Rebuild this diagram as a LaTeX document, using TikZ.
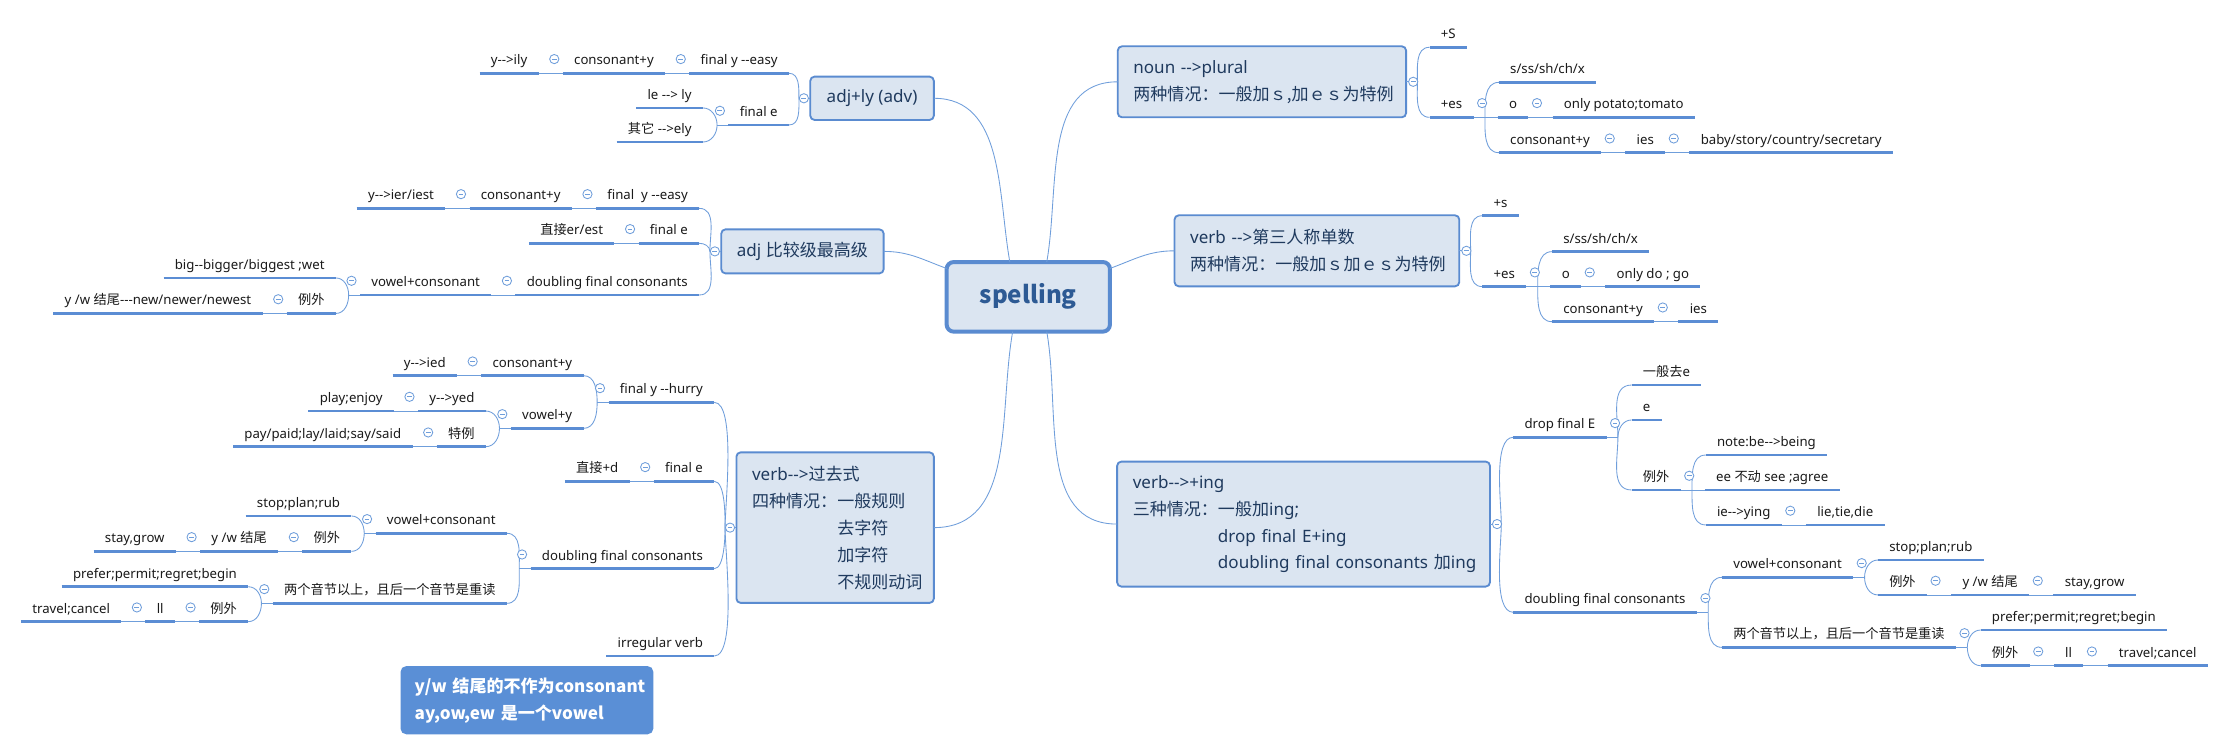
\documentclass[tikz,border=0pt]{standalone}
\usepackage{fontspec}
\setmainfont{Noto Sans}
\newfontfamily\zh{Noto Sans CJK SC}
\usetikzlibrary{positioning}
\definecolor{boxfill}{HTML}{DBE5F1}
\definecolor{boxline}{HTML}{5A8BD0}
\definecolor{navy}{HTML}{1F3A5E}
\definecolor{spellc}{HTML}{2D5A94}
\definecolor{ulinec}{HTML}{5B8DD4}
\definecolor{connc}{HTML}{6F9EDB}
\definecolor{notec}{HTML}{5A8FD6}
\definecolor{leaftext}{HTML}{1A1A1A}

\begin{document}
\begin{tikzpicture}[x=1pt, y=-1pt,
    node distance=17pt,
    every node/.style={outer sep=0pt},
    topic/.style={draw=boxline, fill=boxfill, line width=1.3pt, rounded corners=3pt,
        font=\fontsize{12}{19}\selectfont, text=navy, inner xsep=11pt, inner ysep=0pt},
    leaf/.style={font=\fontsize{9.3}{11}\selectfont, text=leaftext, inner xsep=8pt,
        inner ysep=3.5pt, text height=7pt, text depth=2.5pt},
    uline/.style={draw=ulinec, line width=2pt},
    conn/.style={draw=connc, line width=0.6pt},
    lup/.style={out=90, in=0}, ldn/.style={out=-90, in=0},
    rup/.style={out=90, in=180}, rdn/.style={out=-90, in=180},
    fold/.style={circle, draw=connc, fill=white, line width=0.6pt, minimum size=6.5pt, inner sep=0pt,
        path picture={\draw[connc, line width=0.6pt] ([xshift=-1.7pt]path picture bounding box.center)
            -- ([xshift=1.7pt]path picture bounding box.center);}},
    note/.style={fill=notec, rounded corners=4pt, text=white, align=left, text width=158pt,
        inner xsep=10pt, minimum height=48pt, font=\zh\bfseries\fontsize{12}{19}\selectfont}
  ]
\path[fill=white] (0,0) rectangle (1568,529);
\useasboundingbox (0,0) rectangle (1568,529);

% main topics
\node[topic, line width=2.8pt, rounded corners=5pt, minimum width=115pt, minimum height=49pt,
      font=\zh\bfseries\fontsize{17}{21}\selectfont, text=spellc] (sp) at (724,209) {spelling};
\node[topic, minimum width=87pt, minimum height=30.5pt] (al) at (614,69.2) {adj+ly (adv)};
\node[topic, minimum width=111.5pt, minimum height=31pt] (ac) at (565,177) {adj {\zh 比较级最高级}};
\node[topic, align=left, text width=117pt, minimum height=106pt] (vp) at (588,371.5)
  {verb-{}->{\zh 过去式}\\{\zh 四种情况：一般规则}\\{\zh\phantom{四种情况：}去字符}\\
   {\zh\phantom{四种情况：}加字符}\\{\zh\phantom{四种情况：}不规则动词}};
\node[topic, align=left, text width=181pt, minimum height=50pt] (np) at (888.5,57.6)
  {noun -{}->plural\\{\zh 两种情况：一般加ｓ,加ｅｓ为特例}};
\node[topic, align=left, text width=178.5pt, minimum height=50pt] (vt) at (927.2,176.6)
  {verb -{}->{\zh 第三人称单数}\\{\zh 两种情况：一般加ｓ加ｅｓ为特例}};
\node[topic, align=left, text width=240.5pt, minimum height=88pt] (vi) at (917.8,369)
  {verb-{}->+ing\\{\zh 三种情况：一般加}ing;\\{\zh\phantom{三种情况：}}drop final E+ing\\
   \mbox{{\zh\phantom{三种情况：}}doubling final consonants {\zh 加}ing}};
\node[note] (nt) at (371,493)
  {\mbox{y/w 结尾的不作为consonant}\\\mbox{ay,ow,ew 是一个vowel}};

% adj+ly (adv)
\node[leaf, anchor=south east] (al1) at ([shift={(-15,-17.6)}]al.west) {final y -{}-easy};
\node[leaf, left=of al1] (al11) {consonant+y};
\node[leaf, left=of al11] (al111) {y-{}->ily};
\node[leaf, anchor=south east] (al2) at ([shift={(-15,18.8)}]al.west) {final e};
\node[leaf, anchor=south east] (al21) at ([shift={(-18,-12)}]al2.south west) {le -{}-> ly};
\node[leaf, anchor=south east] (al22) at ([shift={(-18,12)}]al2.south west) {{\zh 其它} -{}->ely};

% adj comparative
\node[leaf, anchor=south east] (ac1) at ([shift={(-15.6,-30.3)}]ac.west) {final\ \ y -{}-easy};
\node[leaf, left=of ac1] (ac11) {consonant+y};
\node[leaf, left=of ac11] (ac111) {y-{}->ier/iest};
\node[leaf, anchor=south east] (ac2) at ([shift={(-15.6,-5.7)}]ac.west) {final e};
\node[leaf, left=of ac2] (ac21) {{\zh 直接}er/est};
\node[leaf, anchor=south east] (ac3) at ([shift={(-15.6,30.7)}]ac.west) {doubling final consonants};
\node[leaf, left=of ac3] (ac31) {vowel+consonant};
\node[leaf, anchor=south east] (ac311) at ([shift={(-17,-12)}]ac31.south west) {big-{}-bigger/biggest ;wet};
\node[leaf, anchor=south east] (ac312) at ([shift={(-17,13)}]ac31.south west) {{\zh 例外}};
\node[leaf, left=of ac312] (ac3121) {y /w {\zh 结尾}-{}-{}-new/newer/newest};

% verb past
\node[leaf, anchor=south east] (vp1) at ([shift={(-15.6,-88.2)}]vp.west) {final y -{}-hurry};
\node[leaf, anchor=south east] (vp11) at ([shift={(-17.6,-18.8)}]vp1.south west) {consonant+y};
\node[leaf, left=of vp11] (vp111) {y-{}->ied};
\node[leaf, anchor=south east] (vp12) at ([shift={(-17.6,18.3)}]vp1.south west) {vowel+y};
\node[leaf, anchor=south east] (vp121) at ([shift={(-17.6,-12.2)}]vp12.south west) {y-{}->yed};
\node[leaf, left=of vp121] (vp1211) {play;enjoy};
\node[leaf, anchor=south east] (vp122) at ([shift={(-17.6,12.9)}]vp12.south west) {{\zh 特例}};
\node[leaf, left=of vp122] (vp1221) {pay/paid;lay/laid;say/said};
\node[leaf, anchor=south east] (vp2) at ([shift={(-15.6,-32.6)}]vp.west) {final e};
\node[leaf, left=of vp2] (vp21) {{\zh 直接}+d};
\node[leaf, anchor=south east] (vp3) at ([shift={(-15.6,28.9)}]vp.west) {doubling final consonants};
\node[leaf, anchor=south east] (vp31) at ([shift={(-16.7,-24.9)}]vp3.south west) {vowel+consonant};
\node[leaf, anchor=south east] (vp311) at ([shift={(-17,-12.2)}]vp31.south west) {stop;plan;rub};
\node[leaf, anchor=south east] (vp312) at ([shift={(-17,12.7)}]vp31.south west) {{\zh 例外}};
\node[leaf, left=of vp312] (vp3121) {y /w {\zh 结尾}};
\node[leaf, left=of vp3121] (vp31211) {stay,grow};
\node[leaf, anchor=south east] (vp32) at ([shift={(-16.7,24.4)}]vp3.south west) {{\zh 两个音节以上，且后一个音节是重读}};
\node[leaf, anchor=south east] (vp321) at ([shift={(-17.3,-11.7)}]vp32.south west) {prefer;permit;regret;begin};
\node[leaf, anchor=south east] (vp322) at ([shift={(-17.3,12.9)}]vp32.south west) {{\zh 例外}};
\node[leaf, left=of vp322] (vp3221) {ll};
\node[leaf, left=of vp3221] (vp32211) {travel;cancel};
\node[leaf, anchor=south east] (vp4) at ([shift={(-15.6,90.4)}]vp.west) {irregular verb};

% noun plural
\node[leaf, anchor=south west] (np1) at ([shift={(16.5,-24.3)}]np.east) {+S};
\node[leaf, anchor=south west] (np2) at ([shift={(16.5,25)}]np.east) {+es};
\node[leaf, anchor=south west] (np21) at ([shift={(17.8,-24.6)}]np2.south east) {s/ss/sh/ch/x};
\node[leaf, right=of np2] (np22) {o};
\node[leaf, right=of np22] (np221) {only potato;tomato};
\node[leaf, anchor=south west] (np23) at ([shift={(17.8,24.9)}]np2.south east) {consonant+y};
\node[leaf, right=of np23] (np231) {ies};
\node[leaf, right=of np231] (np2311) {baby/story/country/secretary};

% verb third person
\node[leaf, anchor=south west] (vt1) at ([shift={(16.2,-24.7)}]vt.east) {+s};
\node[leaf, anchor=south west] (vt2) at ([shift={(16.2,25.2)}]vt.east) {+es};
\node[leaf, anchor=south west] (vt21) at ([shift={(18,-24.6)}]vt2.south east) {s/ss/sh/ch/x};
\node[leaf, right=of vt2] (vt22) {o};
\node[leaf, right=of vt22] (vt221) {only do ; go};
\node[leaf, anchor=south west] (vt23) at ([shift={(18,24.7)}]vt2.south east) {consonant+y};
\node[leaf, right=of vt23] (vt231) {ies};

% verb ing
\node[leaf, anchor=south west] (vi1) at ([shift={(16.4,-61.1)}]vi.east) {drop final E};
\node[leaf, anchor=south west] (vi11) at ([shift={(17.6,-36.8)}]vi1.south east) {{\zh 一般去}e};
\node[leaf, anchor=south west] (vi12) at ([shift={(17.6,-12.2)}]vi1.south east) {e};
\node[leaf, anchor=south west] (vi13) at ([shift={(17.6,37.1)}]vi1.south east) {{\zh 例外}};
\node[leaf, anchor=south west] (vi131) at ([shift={(17.6,-24.6)}]vi13.south east) {note:be-{}->being};
\node[leaf, right=of vi13] (vi132) {ee {\zh 不动} see ;agree};
\node[leaf, anchor=south west] (vi133) at ([shift={(17.6,24.6)}]vi13.south east) {ie-{}->ying};
\node[leaf, right=of vi133] (vi1331) {lie,tie,die};
\node[leaf, anchor=south west] (vi2) at ([shift={(16.4,62.1)}]vi.east) {doubling final consonants};
\node[leaf, anchor=south west] (vi21) at ([shift={(17.6,-24.6)}]vi2.south east) {vowel+consonant};
\node[leaf, anchor=south west] (vi211) at ([shift={(17.4,-12.2)}]vi21.south east) {stop;plan;rub};
\node[leaf, anchor=south west] (vi212) at ([shift={(17.4,12.4)}]vi21.south east) {{\zh 例外}};
\node[leaf, right=of vi212] (vi2121) {y /w {\zh 结尾}};
\node[leaf, right=of vi2121] (vi21211) {stay,grow};
\node[leaf, anchor=south west] (vi22) at ([shift={(17.6,24.7)}]vi2.south east) {{\zh 两个音节以上，且后一个音节是重读}};
\node[leaf, anchor=south west] (vi221) at ([shift={(17.3,-12.2)}]vi22.south east) {prefer;permit;regret;begin};
\node[leaf, anchor=south west] (vi222) at ([shift={(17.3,12.9)}]vi22.south east) {{\zh 例外}};
\node[leaf, right=of vi222] (vi2221) {ll};
\node[leaf, right=of vi2221] (vi22211) {travel;cancel};

% branch points
\foreach \n in {al2,ac31,vp1,vp12,vp3,vp31,vp32}
  \coordinate (b\n) at ([xshift=-8pt]\n.south west);
\foreach \n in {np2,vt2,vi1,vi13,vi2,vi21,vi22}
  \coordinate (b\n) at ([xshift=8pt]\n.south east);
\foreach \n in {al,ac,vp} \coordinate (b\n) at ([xshift=-8pt]\n.west);
\foreach \n in {np,vt,vi} \coordinate (b\n) at ([xshift=8pt]\n.east);

% main connectors
\path[conn]
  (al.east) edge[out=0, in=100] ([xshift=-13pt]sp.north)
  (ac.east) edge[out=0, in=160] ([yshift=20pt]sp.west)
  (vp.east) edge[out=0, in=-100] ([xshift=-11pt]sp.south)
  (np.west) edge[out=180, in=80] ([xshift=13pt]sp.north)
  (vt.west) edge[out=180, in=20] ([yshift=20pt]sp.east)
  (vi.west) edge[out=180, in=-80] ([xshift=13pt]sp.south);

% left branches
\path[conn]
  (al.west) edge (bal)
  (bal) edge[lup] (al1.south east)
  (bal) edge[ldn] (al2.south east)
  (al1.south west) edge (al11.south east)
  (al11.south west) edge (al111.south east)
  (al2.south west) edge (bal2)
  (bal2) edge[lup] (al21.south east)
  (bal2) edge[ldn] (al22.south east)
  (ac.west) edge (bac)
  (bac) edge[lup] (ac1.south east)
  (bac) edge[lup] (ac2.south east)
  (bac) edge[ldn] (ac3.south east)
  (ac1.south west) edge (ac11.south east)
  (ac11.south west) edge (ac111.south east)
  (ac2.south west) edge (ac21.south east)
  (ac3.south west) edge (ac31.south east)
  (ac31.south west) edge (bac31)
  (bac31) edge[lup] (ac311.south east)
  (bac31) edge[ldn] (ac312.south east)
  (ac312.south west) edge (ac3121.south east)
  (vp.west) edge (bvp)
  (bvp) edge[lup, looseness=.45] (vp1.south east)
  (bvp) edge[lup, looseness=.6] (vp2.south east)
  (bvp) edge[ldn, looseness=.6] (vp3.south east)
  (bvp) edge[ldn, looseness=.45] (vp4.south east)
  (vp1.south west) edge (bvp1)
  (bvp1) edge[lup] (vp11.south east)
  (bvp1) edge[ldn] (vp12.south east)
  (vp11.south west) edge (vp111.south east)
  (vp12.south west) edge (bvp12)
  (bvp12) edge[lup] (vp121.south east)
  (bvp12) edge[ldn] (vp122.south east)
  (vp121.south west) edge (vp1211.south east)
  (vp122.south west) edge (vp1221.south east)
  (vp2.south west) edge (vp21.south east)
  (vp3.south west) edge (bvp3)
  (bvp3) edge[lup] (vp31.south east)
  (bvp3) edge[ldn] (vp32.south east)
  (vp31.south west) edge (bvp31)
  (bvp31) edge[lup] (vp311.south east)
  (bvp31) edge[ldn] (vp312.south east)
  (vp312.south west) edge (vp3121.south east)
  (vp3121.south west) edge (vp31211.south east)
  (vp32.south west) edge (bvp32)
  (bvp32) edge[lup] (vp321.south east)
  (bvp32) edge[ldn] (vp322.south east)
  (vp322.south west) edge (vp3221.south east)
  (vp3221.south west) edge (vp32211.south east);

% right branches
\path[conn]
  (np.east) edge (bnp)
  (bnp) edge[rup] (np1.south west)
  (bnp) edge[rdn] (np2.south west)
  (np2.south east) edge (np22.south west)
  (bnp2) edge[rup] (np21.south west)
  (bnp2) edge[rdn] (np23.south west)
  (np22.south east) edge (np221.south west)
  (np23.south east) edge (np231.south west)
  (np231.south east) edge (np2311.south west)
  (vt.east) edge (bvt)
  (bvt) edge[rup] (vt1.south west)
  (bvt) edge[rdn] (vt2.south west)
  (vt2.south east) edge (vt22.south west)
  (bvt2) edge[rup] (vt21.south west)
  (bvt2) edge[rdn] (vt23.south west)
  (vt22.south east) edge (vt221.south west)
  (vt23.south east) edge (vt231.south west)
  (vi.east) edge (bvi)
  (bvi) edge[rup, looseness=.6] (vi1.south west)
  (bvi) edge[rdn, looseness=.6] (vi2.south west)
  (vi1.south east) edge (bvi1)
  (bvi1) edge[rup] (vi11.south west)
  (bvi1) edge[rup] (vi12.south west)
  (bvi1) edge[rdn] (vi13.south west)
  (vi13.south east) edge (vi132.south west)
  (bvi13) edge[rup] (vi131.south west)
  (bvi13) edge[rdn] (vi133.south west)
  (vi133.south east) edge (vi1331.south west)
  (vi2.south east) edge (bvi2)
  (bvi2) edge[rup] (vi21.south west)
  (bvi2) edge[rdn] (vi22.south west)
  (vi21.south east) edge (bvi21)
  (bvi21) edge[rup] (vi211.south west)
  (bvi21) edge[rdn] (vi212.south west)
  (vi212.south east) edge (vi2121.south west)
  (vi2121.south east) edge (vi21211.south west)
  (vi22.south east) edge (bvi22)
  (bvi22) edge[rup] (vi221.south west)
  (bvi22) edge[rdn] (vi222.south west)
  (vi222.south east) edge (vi2221.south west)
  (vi2221.south east) edge (vi22211.south west);

% underlines
\foreach \n in {al1,al11,al111,al2,al21,al22,ac1,ac11,ac111,ac2,ac21,ac3,ac31,ac311,ac312,ac3121,
    vp1,vp11,vp111,vp12,vp121,vp1211,vp122,vp1221,vp2,vp21,vp3,vp31,vp311,vp312,vp3121,vp31211,
    vp32,vp321,vp322,vp3221,vp32211,vp4,np1,np2,np21,np22,np221,np23,np231,np2311,
    vt1,vt2,vt21,vt22,vt221,vt23,vt231,vi1,vi11,vi12,vi13,vi131,vi132,vi133,vi1331,
    vi2,vi21,vi211,vi212,vi2121,vi21211,vi22,vi221,vi222,vi2221,vi22211}
  \draw[uline] (\n.south west) -- (\n.south east);

% fold marks
\foreach \n in {al1,al11,al2,ac1,ac11,ac2,ac3,ac31,ac312,vp1,vp11,vp12,vp121,vp122,vp2,
    vp3,vp31,vp312,vp3121,vp32,vp322,vp3221}
  \node[fold] (f\n) at ([shift={(-6,-10)}]\n.south west) {};
\foreach \n in {np2,np22,np23,np231,vt2,vt22,vt23,vi1,vi13,vi133,vi2,vi21,vi212,vi2121,
    vi22,vi222,vi2221}
  \node[fold] (f\n) at ([shift={(6,-10)}]\n.south east) {};
\foreach \n in {al,ac,vp} \node[fold] (f\n) at ([xshift=-4.5pt]\n.west) {};
\foreach \n in {np,vt,vi} \node[fold] (f\n) at ([xshift=5pt]\n.east) {};
\end{tikzpicture}
\end{document}
